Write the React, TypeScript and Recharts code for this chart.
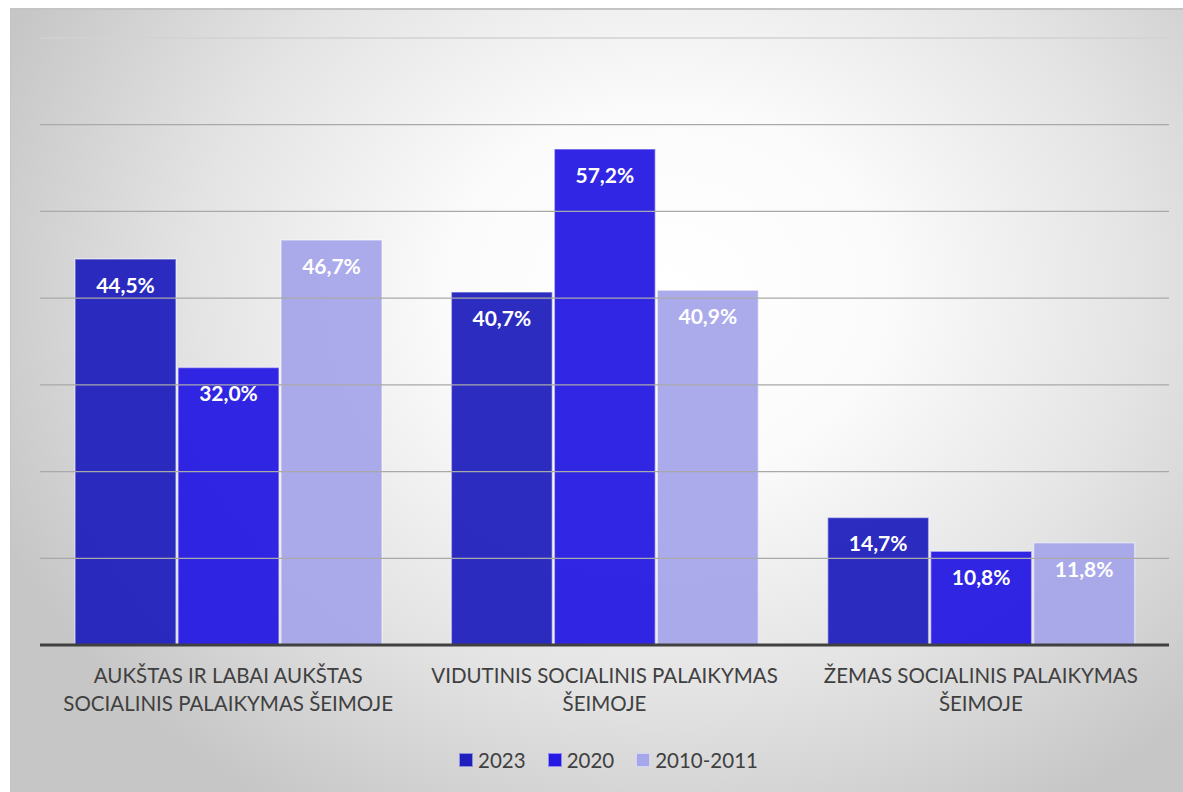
import React from 'react';
import { BarChart, Bar, XAxis, YAxis, Legend, LabelList, ReferenceLine } from 'recharts';

// Categories (split into the two lines shown under the axis)
const categoryLines = [
  ['AUKŠTAS IR LABAI AUKŠTAS', 'SOCIALINIS PALAIKYMAS ŠEIMOJE'],
  ['VIDUTINIS SOCIALINIS PALAIKYMAS', 'ŠEIMOJE'],
  ['ŽEMAS SOCIALINIS PALAIKYMAS', 'ŠEIMOJE'],
];
const categories = categoryLines.map((l) => l.join(' '));

const values2023 = [44.5, 40.7, 14.7];
const values2020 = [32.0, 57.2, 10.8];
const values2010 = [46.7, 40.9, 11.8];

const yTicks = [10, 20, 30, 40, 50, 60, 70];

const seriesInfo = [
  { key: 'y2023', name: '2023', color: '#1f1fbd' },
  { key: 'y2020', name: '2020', color: '#2418e2' },
  { key: 'y2010', name: '2010-2011', color: '#a6a6ea' },
];

const data = categories.map((c, i) => ({
  category: c,
  y2023: values2023[i],
  y2020: values2020[i],
  y2010: values2010[i],
}));

const FONT = 'Lato, "Open Sans", sans-serif';

const fmt = (v: number) => v.toFixed(1).replace('.', ',') + '%';

const CategoryTick = (props: any) => {
  const { x, y, payload } = props;
  const lines = categoryLines[payload.index] || [payload.value];
  return (
    <g transform={`translate(${x},${y})`}>
      {lines.map((ln: string, i: number) => (
        <text
          key={i}
          x={0}
          y={30 + i * 28}
          textAnchor="middle"
          fill="#404040"
          fontSize={20.5}
          fontFamily={FONT}
        >
          {ln}
        </text>
      ))}
    </g>
  );
};

const LegendContent = () => (
  <div
    style={{
      display: 'flex',
      justifyContent: 'center',
      alignItems: 'center',
      gap: 22,
      fontFamily: FONT,
      fontSize: 20.5,
      color: '#404040',
      paddingLeft: 8,
    }}
  >
    {seriesInfo.map((s) => (
      <div key={s.key} style={{ display: 'flex', alignItems: 'center' }}>
        <span
          style={{
            display: 'inline-block',
            width: 12,
            height: 12,
            background: s.color,
            border: '1px solid rgba(255,255,255,0.5)',
            marginRight: 5,
          }}
        />
        <span>{s.name}</span>
      </div>
    ))}
  </div>
);

const App = () => {
  return (
    <div
      style={{
        position: 'absolute',
        left: 10,
        top: 8,
        width: 1173,
        height: 784,
        borderTop: '2px solid #c4c4c4',
        borderLeft: '1px solid #c4c4c4',
        boxSizing: 'border-box',
        background:
          'radial-gradient(ellipse 62% 78% at 56% 36%, #ffffff 0%, #fbfbfb 30%, #e4e4e4 65%, #c6c6c6 100%)',
      }}
    >
      <BarChart
        width={1172}
        height={782}
        data={data}
        margin={{ top: 28, right: 14, left: 29, bottom: 0 }}
        barCategoryGap="9.3%"
        barGap={2}
      >
        <YAxis hide domain={[0, 70]} ticks={[0, ...yTicks]} />
        <XAxis
          dataKey="category"
          axisLine={{ stroke: '#404040', strokeWidth: 3 }}
          tickLine={false}
          interval={0}
          height={103}
          tick={<CategoryTick />}
        />
        {yTicks.map((t) => (
          <ReferenceLine
            key={t}
            y={t}
            stroke={t === 70 ? '#d2d2d2' : '#a9a9a9'}
            strokeWidth={1.3}
          />
        ))}
        <Legend verticalAlign="bottom" height={44} content={<LegendContent />} />
        {seriesInfo.map((s) => (
          <Bar
            key={s.key}
            dataKey={s.key}
            name={s.name}
            fill={s.color}
            fillOpacity={0.94}
            stroke="rgba(255,255,255,0.45)"
            strokeWidth={1.5}
            isAnimationActive={false}
          >
            <LabelList
              dataKey={s.key}
              position="insideTop"
              offset={19}
              formatter={(v: number) => fmt(v)}
              fill="#ffffff"
              fontSize={21}
              fontWeight={700}
              fontFamily={FONT}
            />
          </Bar>
        ))}
      </BarChart>
    </div>
  );
};

export default App;
